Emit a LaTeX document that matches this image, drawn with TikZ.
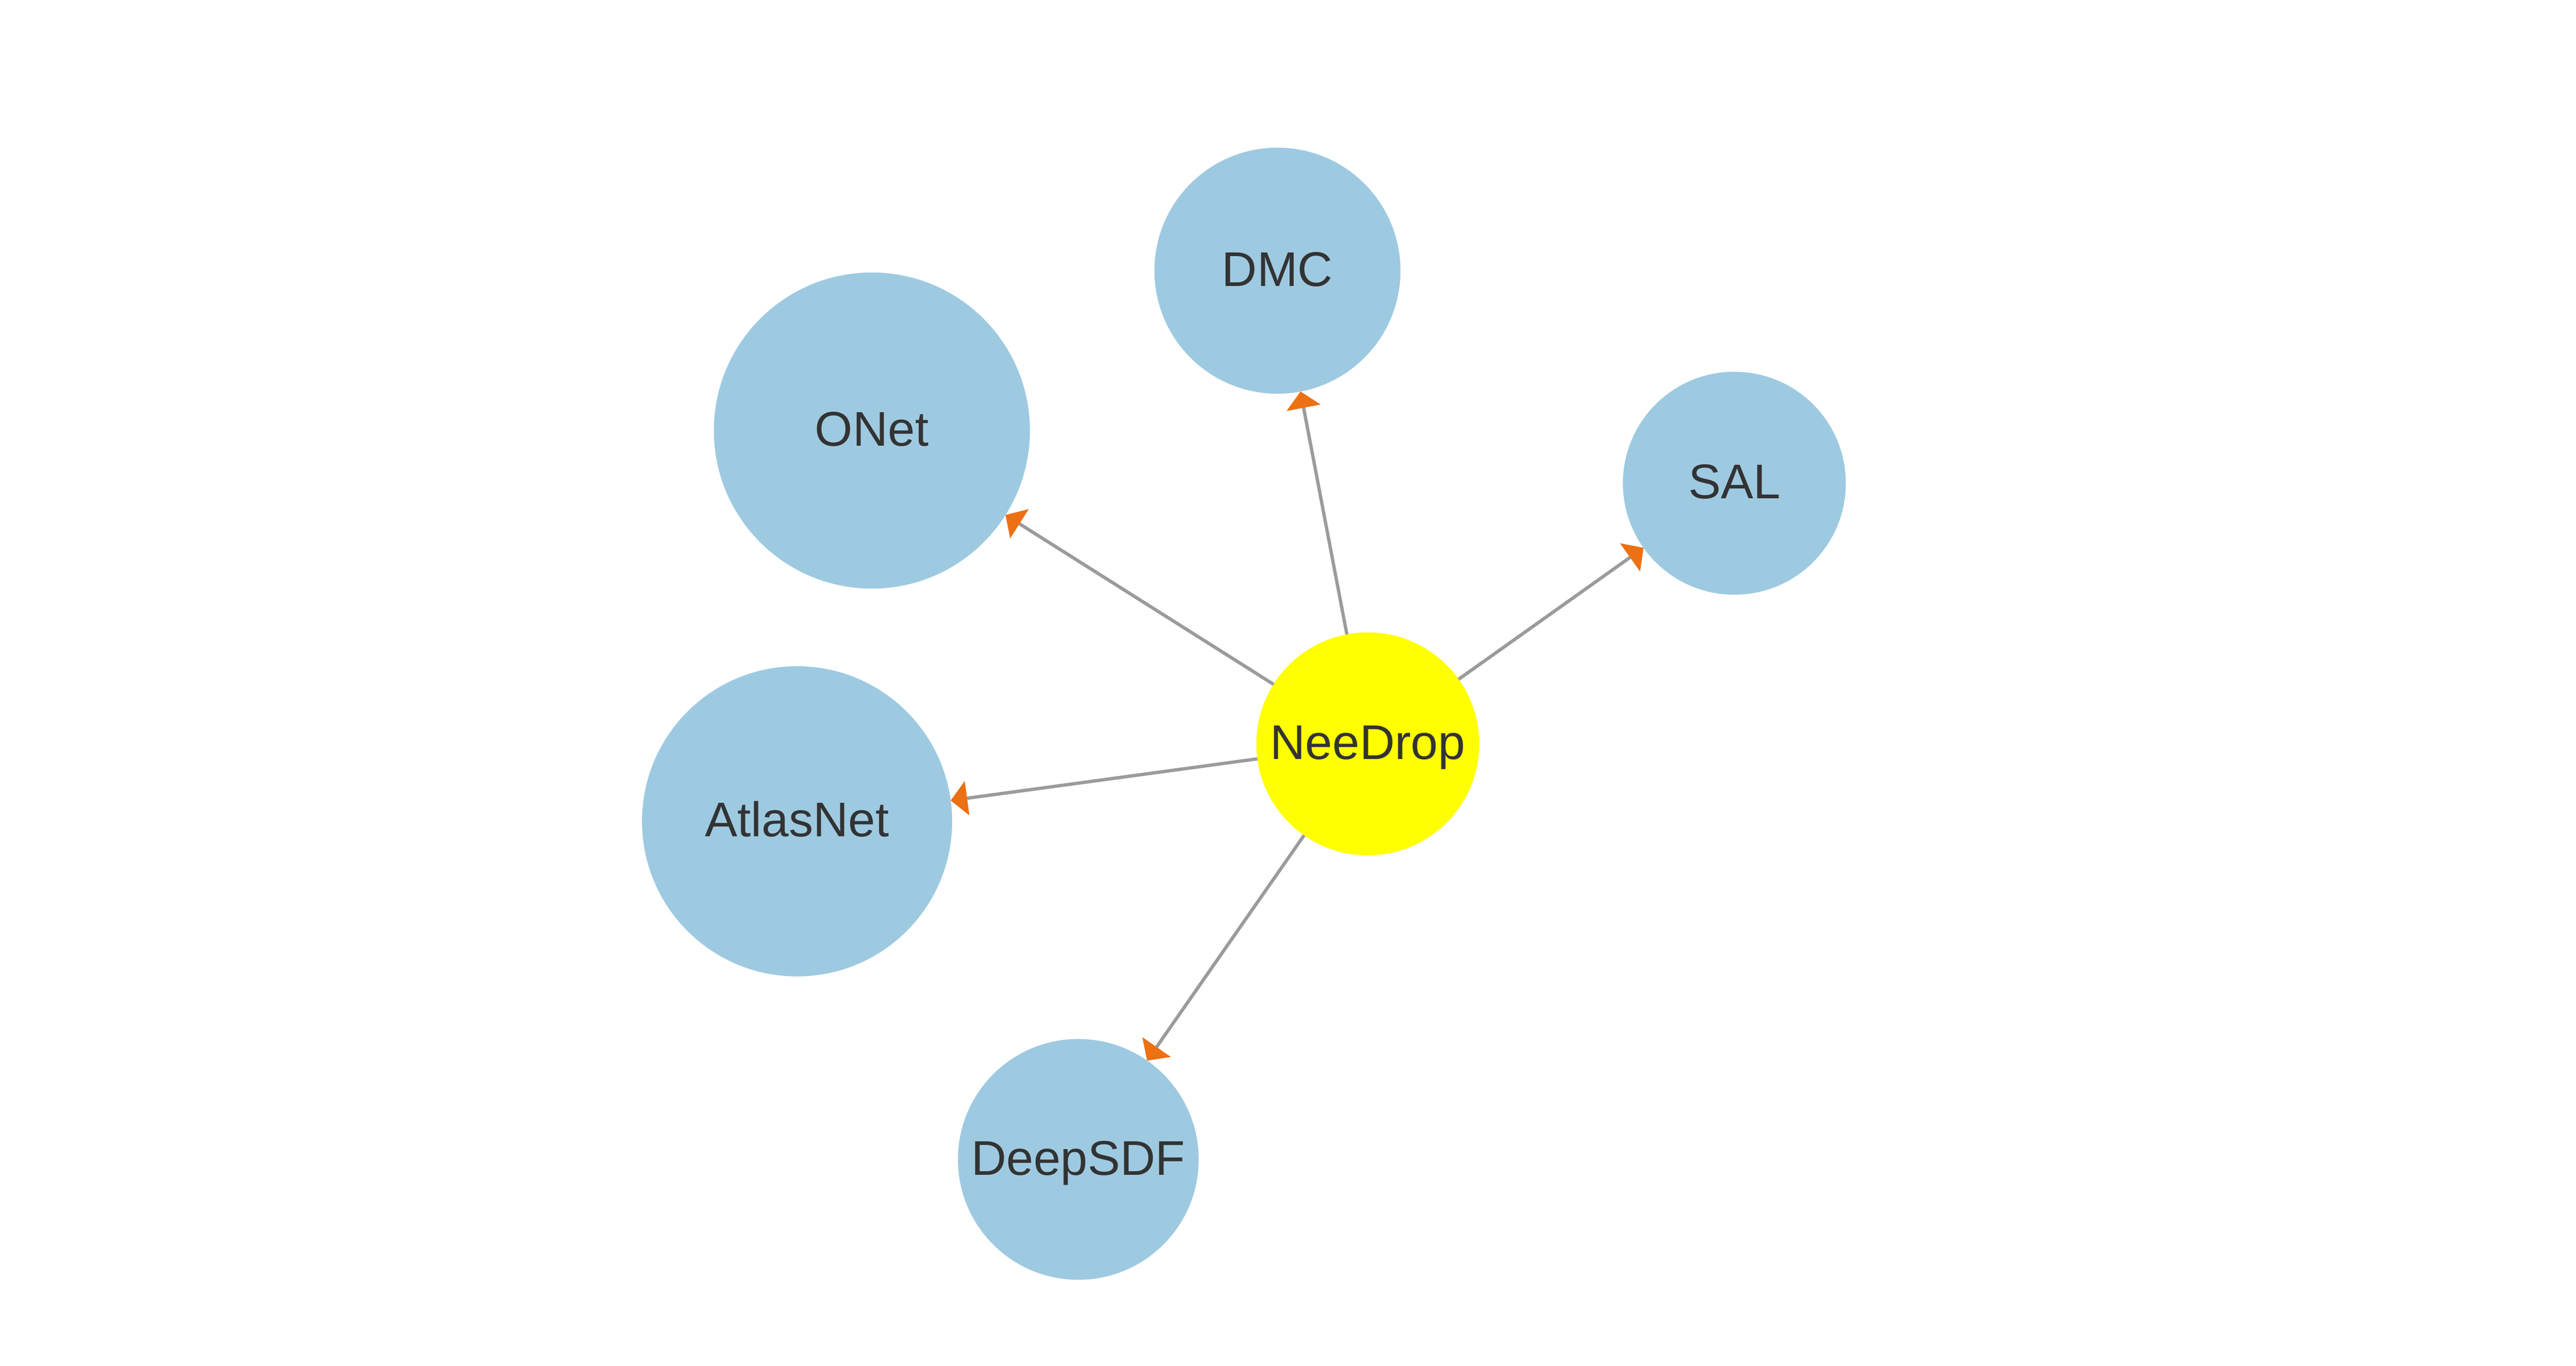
\documentclass[tikz,border=0pt]{standalone}
\usepackage{fontspec}
\setmainfont{Liberation Sans}
\usetikzlibrary{arrows.meta}
\definecolor{nodeblue}{HTML}{9ECAE1}
\definecolor{seedyellow}{RGB}{255,255,0}
\definecolor{edgegray}{HTML}{9B9B9B}
\definecolor{tiporange}{HTML}{EC7014}
\definecolor{labelgray}{HTML}{333333}

\begin{document}
\begin{tikzpicture}[x=1pt,y=1pt,yscale=-1,
	paper/.style={circle,fill=nodeblue,inner sep=0pt,outer sep=0pt,text=labelgray,
		font=\fontsize{29.5}{34}\selectfont,text height=21.1pt,text depth=2.4pt},
	cites/.style={draw=edgegray,line width=2pt,-{Triangle[length=10pt,width=21pt,line width=0pt,color=tiporange]}}]
	\useasboundingbox (0,0) rectangle (1560,827);
	
	% Draw the paper nodes
	\node[paper,minimum size=135pt,fill=seedyellow] (needrop) at (828.3,450.4) {NeeDrop};
	\node[paper,minimum size=149pt] (dmc) at (773.6,163.9) {DMC};
	\node[paper,minimum size=135pt] (sal) at (1050.3,292.6) {SAL};
	\node[paper,minimum size=191.4pt] (onet) at (528,260.7) {ONet};
	\node[paper,minimum size=187.8pt] (atlasnet) at (482.7,497.3) {AtlasNet};
	\node[paper,minimum size=145.8pt] (deepsdf) at (653,702) {DeepSDF};
	
	% Draw the citation edges
	\draw[cites] (needrop) -- (onet);
	\draw[cites] (needrop) -- (dmc);
	\draw[cites] (needrop) -- (sal);
	\draw[cites] (needrop) -- (atlasnet);
	\draw[cites] (needrop) -- (deepsdf);
\end{tikzpicture}
\end{document}
